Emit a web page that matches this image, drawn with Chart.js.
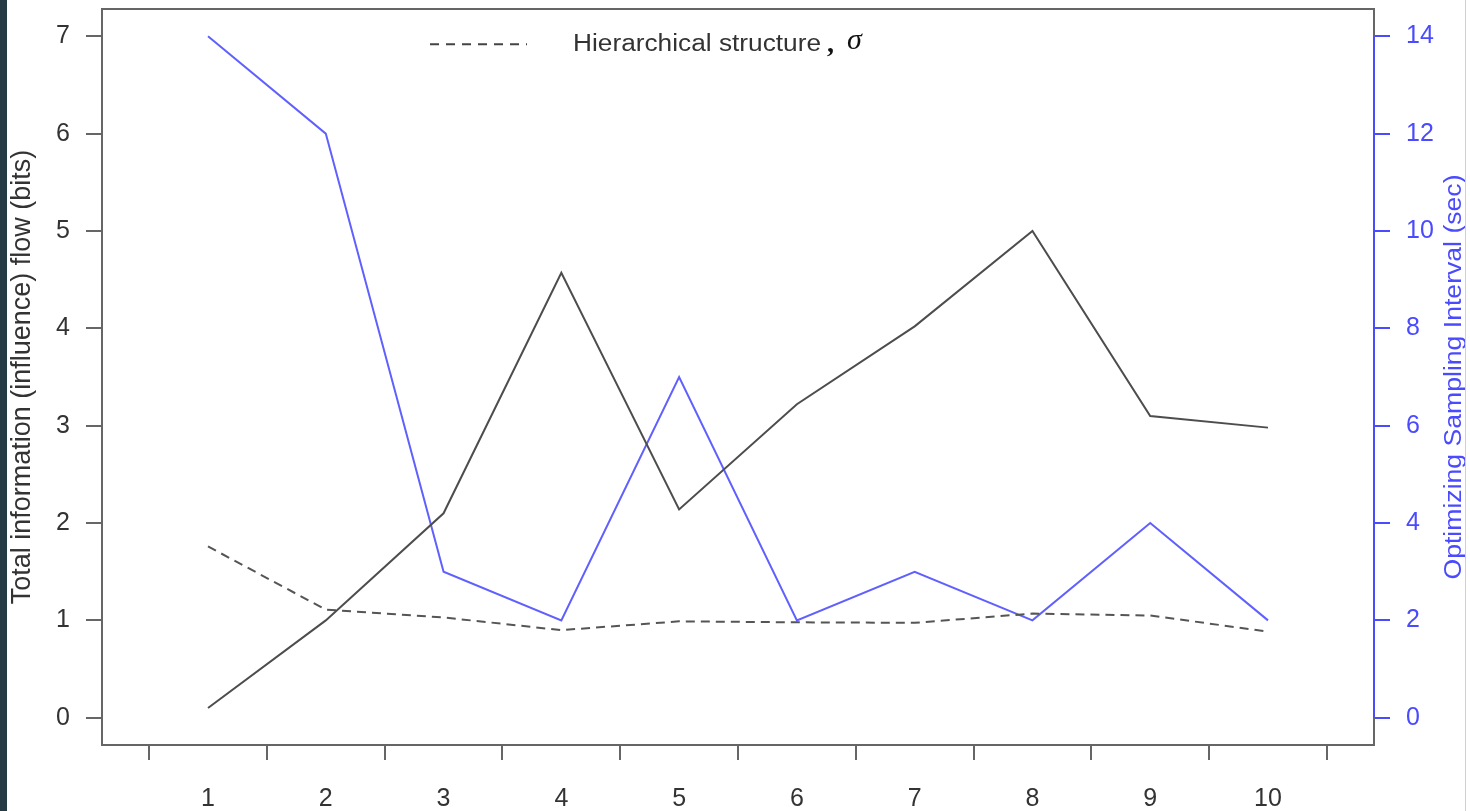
<!DOCTYPE html>
<html>
<head>
<meta charset="utf-8">
<script src="https://cdn.jsdelivr.net/npm/chart.js@4/dist/chart.umd.min.js"></script>
<style>
  html, body { margin: 0; padding: 0; background: #ffffff; }
  #wrap { position: relative; width: 1470px; height: 811px; }
  #bar { position: absolute; left: 0; top: 0; width: 7px; height: 811px; background: #263a44; }
  #rline { position: absolute; left: 1465px; top: 0; width: 1px; height: 811px; background: #d0d0d0; }
  canvas { position: absolute; left: 0; top: 0; }
</style>
</head>
<body>
<div id="wrap">
  <canvas id="c" width="1470" height="811"></canvas>
  <div id="bar"></div>
  <div id="rline"></div>
</div>
<script>
// ---- data ----
const categories = [1, 2, 3, 4, 5, 6, 7, 8, 9, 10];
const totalFlow = [0.10, 1.00, 2.10, 4.57, 2.14, 3.22, 4.02, 5.00, 3.10, 2.98];
const hierarchy = [1.76, 1.11, 1.03, 0.90, 0.99, 0.98, 0.975, 1.07, 1.05, 0.885];
const samplingInterval = [14, 12, 3, 2, 7, 2, 3, 2, 4, 2];
const xTickMarks = [0.5, 1.5, 2.5, 3.5, 4.5, 5.5, 6.5, 7.5, 8.5, 9.5, 10.5];
const xTickLabels = ['1', '2', '3', '4', '5', '6', '7', '8', '9', '10'];
const leftTicks = [0, 1, 2, 3, 4, 5, 6, 7];
const rightTicks = [0, 2, 4, 6, 8, 10, 12, 14];
const leftTitle = 'Total information (influence) flow (bits)';
const rightTitle = 'Optimizing Sampling Interval (sec)';
const legendText = 'Hierarchical structure';

const GRAY = '#555555';
const BLUE = '#4a4aff';
const FONT = "'Liberation Sans', Arial, sans-serif";

const pts = arr => arr.map((v, i) => ({ x: categories[i], y: v }));
const noPad = s => { s.paddingTop = 0; s.paddingBottom = 0; s.paddingLeft = 0; s.paddingRight = 0; };

const framePlugin = {
  id: 'frame',
  afterDatasetsDraw(chart) {
    const { ctx, chartArea: a, scales } = chart;
    ctx.save();
    ctx.strokeStyle = '#666666';
    ctx.lineWidth = 2;
    ctx.strokeRect(a.left, a.top, a.right - a.left, a.bottom - a.top);
    // blue right axis line from first to last tick
    const y1 = scales.y1;
    ctx.strokeStyle = BLUE;
    ctx.beginPath();
    ctx.moveTo(a.right, y1.getPixelForValue(rightTicks[0]));
    ctx.lineTo(a.right, y1.getPixelForValue(rightTicks[rightTicks.length - 1]));
    ctx.stroke();

    // legend (inside plot, top)
    const ly = scales.y.getPixelForValue(7) + 8;
    ctx.strokeStyle = '#444444';
    ctx.lineWidth = 2;
    ctx.setLineDash([9, 7]);
    ctx.beginPath();
    ctx.moveTo(430, ly);
    ctx.lineTo(527, ly);
    ctx.stroke();
    ctx.setLineDash([]);
    ctx.fillStyle = '#333333';
    ctx.font = '23px ' + FONT;
    ctx.textBaseline = 'middle';
    ctx.textAlign = 'left';
    ctx.save();
    ctx.translate(573, ly);
    const w = ctx.measureText(legendText).width;
    ctx.scale(248 / w, 1);
    ctx.fillText(legendText, 0, 0);
    ctx.restore();
    ctx.font = "bold 28px 'Liberation Serif', serif";
    ctx.fillStyle = '#111111';
    ctx.fillText(',', 827, ly + 1);
    ctx.font = "italic 30px 'Liberation Serif', 'DejaVu Serif', serif";
    ctx.fillText('σ', 847, ly - 3);

    // right axis title, reading bottom-to-top
    ctx.save();
    const cy = (y1.getPixelForValue(rightTicks[0]) + y1.getPixelForValue(rightTicks[rightTicks.length - 1])) / 2;
    ctx.translate(1455, cy);
    ctx.rotate(-Math.PI / 2);
    ctx.fillStyle = BLUE;
    ctx.font = '23px ' + FONT;
    ctx.textAlign = 'center';
    ctx.textBaseline = 'middle';
    const w2 = ctx.measureText(rightTitle).width;
    ctx.scale(405 / w2, 1);
    ctx.fillText(rightTitle, 0, 0);
    ctx.restore();
    ctx.restore();
  }
};

new Chart(document.getElementById('c'), {
  type: 'line',
  data: {
    datasets: [
      { label: 'Total information flow', data: pts(totalFlow), yAxisID: 'y',
        borderColor: '#4d4d4d', borderWidth: 2, pointRadius: 0, tension: 0, fill: false },
      { label: legendText, data: pts(hierarchy), yAxisID: 'y',
        borderColor: GRAY, borderWidth: 2, borderDash: [9, 6], pointRadius: 0, tension: 0, fill: false },
      { label: rightTitle, data: pts(samplingInterval), yAxisID: 'y1',
        borderColor: '#6060ff', borderWidth: 2, pointRadius: 0, tension: 0, fill: false }
    ]
  },
  plugins: [framePlugin],
  options: {
    responsive: false,
    animation: false,
    events: [],
    layout: { padding: { top: 9, left: 0, right: 0, bottom: 0 } },
    plugins: { legend: { display: false }, tooltip: { enabled: false } },
    scales: {
      x: {
        type: 'linear', position: 'bottom', min: 0.1, max: 10.9, weight: 0,
        afterBuildTicks: s => { s.ticks = xTickMarks.map(v => ({ value: v })); },
        afterFit: s => { s.height = 16; noPad(s); },
        ticks: { display: false },
        grid: { drawOnChartArea: false, drawTicks: true, tickLength: 15, color: '#666666', lineWidth: 2 },
        border: { display: false }
      },
      x2: {
        type: 'linear', position: 'bottom', min: 0.1, max: 10.9, weight: 1,
        afterBuildTicks: s => { s.ticks = categories.map(v => ({ value: v })); },
        afterFit: s => { s.height = 50; noPad(s); },
        ticks: { callback: (v, i) => xTickLabels[i], color: '#333333', font: { family: FONT, size: 25 }, padding: 23, maxRotation: 0, autoSkip: false },
        grid: { display: false, drawTicks: false },
        border: { display: false }
      },
      y: {
        position: 'left', min: -0.28, max: 7.28,
        afterBuildTicks: s => { s.ticks = leftTicks.map(v => ({ value: v })); },
        afterFit: s => { s.width = 102; noPad(s); },
        ticks: { color: '#333333', font: { family: FONT, size: 25 }, padding: 16 },
        grid: { drawOnChartArea: false, tickLength: 16, color: '#666666', lineWidth: 2 },
        border: { display: false },
        title: { display: true, text: leftTitle, color: '#333333', font: { family: FONT, size: 27 }, padding: { top: 6, bottom: 0 } }
      },
      y1: {
        position: 'right', min: -0.56, max: 14.56,
        afterBuildTicks: s => { s.ticks = rightTicks.map(v => ({ value: v })); },
        afterFit: s => { s.width = 96; noPad(s); },
        ticks: { color: BLUE, font: { family: FONT, size: 25 }, padding: 16 },
        grid: { drawOnChartArea: false, tickLength: 16, color: BLUE, lineWidth: 2 },
        border: { display: false }
      }
    }
  }
});
</script>
</body>
</html>
